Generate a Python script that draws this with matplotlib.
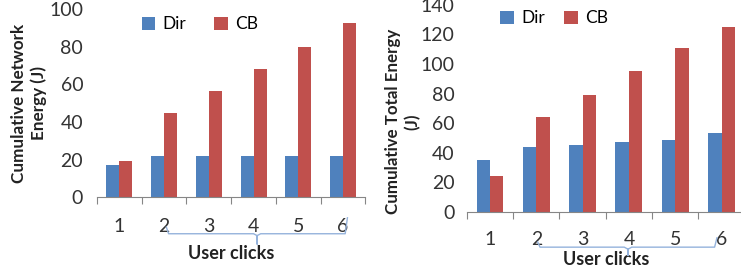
import numpy as np
import matplotlib.pyplot as plt
from matplotlib.transforms import blended_transform_factory

plt.rcParams['font.family'] = ['Lato', 'DejaVu Sans']

clicks = ['1', '2', '3', '4', '5', '6']
net_dir = [17.2, 21.8, 21.8, 21.8, 21.8, 21.8]
net_cb = [19.4, 44.8, 56.5, 68.4, 79.8, 92.9]
tot_dir = [35.2, 44.2, 45.5, 47.1, 48.9, 53.2]
tot_cb = [24.6, 64.3, 79.4, 95.1, 110.7, 125.1]

blue = '#4F81BD'
red = '#C0504D'
grey = '#868686'
brace_col = '#95B3DC'

fig = plt.figure(figsize=(7.41, 2.70), dpi=100)
ax1 = fig.add_axes([0.131, 0.270, 0.362, 0.696])
ax2 = fig.add_axes([0.630, 0.215, 0.375, 0.767])


def draw(ax, d, c, ymax, step, ylab, ylab_size, tickpad, ypad, lab_y, leg_pos, colsp, brace):
    x = np.arange(len(clicks))
    w = 0.29
    ax.bar(x - w / 2, d, w, color=blue, label='Dir')
    ax.bar(x + w / 2, c, w, color=red, label='CB')
    ax.set_xlim(-0.5, len(clicks) - 0.5)
    ax.set_ylim(0, ymax)
    ax.set_yticks(np.arange(0, ymax + 1, step))
    for s in ['top', 'right', 'left']:
        ax.spines[s].set_visible(False)
    ax.spines['bottom'].set_color(grey)
    ax.set_xticks(np.arange(len(clicks) + 1) - 0.5)
    ax.set_xticklabels([])
    ax.set_xticks(x, minor=True)
    ax.set_xticklabels(clicks, minor=True)
    ax.tick_params(axis='x', which='major', length=5, color=grey, direction='out')
    ax.tick_params(axis='x', which='minor', length=0, pad=tickpad, labelsize=14, colors='#333333')
    ax.tick_params(axis='y', length=0, pad=ypad, labelsize=14, colors='#333333')
    ax.set_ylabel(ylab, fontsize=ylab_size, fontweight='bold', linespacing=1.3, color='#222222')
    ax.set_xlabel('User clicks', fontsize=13, fontweight='bold', color='#222222')
    ax.xaxis.set_label_coords(0.5, lab_y)
    ax.legend(loc='center left', bbox_to_anchor=leg_pos, ncol=2, frameon=False,
              fontsize=12.5, handlelength=0.8, handleheight=0.8,
              handletextpad=0.4, columnspacing=colsp, borderaxespad=0)
    # curly brace drawn under the x axis
    x0, x1, xm, yh, ya, yb, yn = brace
    tr = blended_transform_factory(ax.transData, ax.transAxes)
    bx = [x0, x0 + 0.05, xm - 0.08, xm, xm, xm, xm + 0.08, x1 - 0.05, x1]
    by = [ya, yh, yh, yh - 0.01, yn, yh - 0.01, yh, yh, yb]
    ax.plot(bx, by, color=brace_col, lw=1.0, transform=tr, clip_on=False)


draw(ax1, net_dir, net_cb, 100, 20, 'Cumulative Network\nEnergy (J)', 12.3, 15, 10, -0.255,
     (0.14, 0.92), 1.6, (1.05, 5.1, 3.08, -0.195, -0.16, -0.11, -0.25))
draw(ax2, tot_dir, tot_cb, 140, 20, 'Cumulative Total Energy\n(J)', 12.2, 14, 9, -0.19,
     (0.095, 0.935), 1.1, (1.03, 4.9, 2.98, -0.170, -0.145, -0.125, -0.21))

ax1.yaxis.set_label_coords(-0.185, 0.5)
ax2.yaxis.set_label_coords(-0.165, 0.435)

fig.savefig('out.png', dpi=100)
